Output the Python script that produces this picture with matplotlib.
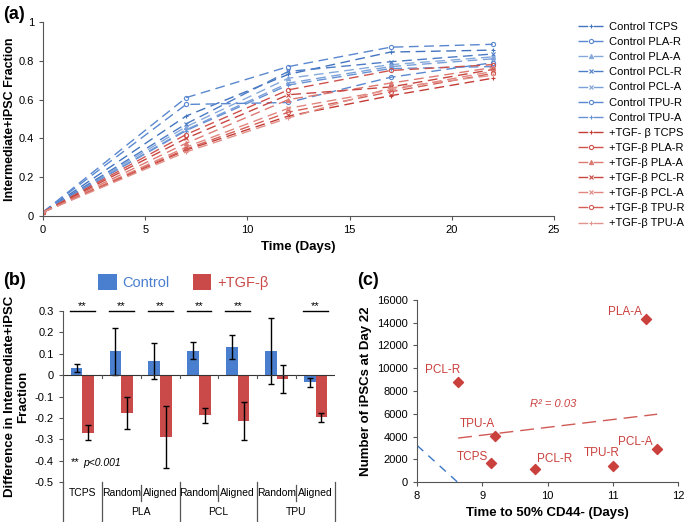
import numpy as np
import matplotlib
matplotlib.use("Agg")
import matplotlib.pyplot as plt

plt.rcParams['font.family'] = ['Liberation Sans', 'DejaVu Sans']

# ---- panel (a) data: fraction over time ----
days = [0, 7, 12, 17, 22]
substrates = ['TCPS', 'PLA-R', 'PLA-A', 'PCL-R', 'PCL-A', 'TPU-R', 'TPU-A']
control_frac = [
    [0.02, 0.515, 0.73, 0.845, 0.855],
    [0.02, 0.61, 0.77, 0.87, 0.885],
    [0.02, 0.46, 0.71, 0.78, 0.82],
    [0.02, 0.475, 0.745, 0.795, 0.835],
    [0.02, 0.445, 0.685, 0.77, 0.81],
    [0.02, 0.575, 0.585, 0.715, 0.79],
    [0.02, 0.44, 0.675, 0.76, 0.77],
]
tgf_frac = [
    [0.02, 0.34, 0.515, 0.62, 0.71],
    [0.02, 0.42, 0.65, 0.75, 0.78],
    [0.02, 0.375, 0.60, 0.685, 0.765],
    [0.02, 0.40, 0.625, 0.665, 0.755],
    [0.02, 0.355, 0.555, 0.65, 0.745],
    [0.02, 0.345, 0.535, 0.64, 0.735],
    [0.02, 0.33, 0.505, 0.66, 0.725],
]
control_names = ['Control ' + s for s in substrates]
tgf_names = ['+TGF- \u03b2 TCPS'] + ['+TGF-\u03b2 ' + s for s in substrates[1:]]

# ---- panel (b) data: difference bars ----
categories = ['TCPS', 'Random', 'Aligned', 'Random', 'Aligned', 'Random', 'Aligned']
groups = ['PLA', 'PCL', 'TPU']
diff_control = [0.034, 0.112, 0.068, 0.115, 0.13, 0.112, -0.034]
err_control = [0.018, 0.11, 0.084, 0.04, 0.056, 0.155, 0.022]
diff_tgf = [-0.27, -0.175, -0.289, -0.188, -0.216, -0.019, -0.198]
err_tgf = [0.035, 0.075, 0.145, 0.035, 0.088, 0.065, 0.023]
significant = [True, True, True, True, True, False, True]
b_yticks = [0.3, 0.2, 0.1, 0, -0.1, -0.2, -0.3, -0.4, -0.5]
b_yticklabels = ['0.3', '0.2', '0.1', '0', '-0.1', '-0.2', '-0.3', '-0.4', '-0.5']

# ---- panel (c) data: scatter ----
time50 = [11.51, 8.63, 9.2, 9.14, 9.81, 11.0, 11.68]
ipsc22 = [14350, 8750, 4040, 1670, 1140, 1450, 2900]
point_labels = ['PLA-A', 'PCL-R', 'TPU-A', 'TCPS', 'PCL-R', 'TPU-R', 'PCL-A']
control_fit = (-5200, 44820)  # slope, intercept of the (hidden) control trend

blue = '#4a7fcf'
red = '#c94a48'
control_colors = ['#4374c0', '#5a88d0', '#86a9dc', '#4c7cc6', '#7aa0d8', '#5a88d0', '#6792d4']
tgf_colors = ['#c43c36', '#cf524c', '#dc7a72', '#c84640', '#e0867e', '#d45e56', '#e2928a']
markers = ['+', 'o', '^', 'x', 'x', 'o', '+']

fig = plt.figure(figsize=(6.85, 5.22), dpi=100)

# ================= (a) =================
ax = fig.add_axes([0.0628, 0.5862, 0.746, 0.3717])
for vals, name, c, m in zip(control_frac, control_names, control_colors, markers):
    ax.plot(days, vals, color=c, lw=1, dashes=(7, 4), marker=m, ms=3,
            mfc='none' if m == 'o' else c, mew=0.8, label=name)
for vals, name, c, m in zip(tgf_frac, tgf_names, tgf_colors, markers):
    ax.plot(days, vals, color=c, lw=1, dashes=(7, 4), marker=m, ms=3,
            mfc='none' if m == 'o' else c, mew=0.8, label=name)
ax.set_xlim(0, 25)
ax.set_ylim(0, 1)
ax.set_xticks([0, 5, 10, 15, 20, 25])
ax.set_yticks([0, 0.2, 0.4, 0.6, 0.8, 1])
ax.set_yticklabels(['0', '0.2', '0.4', '0.6', '0.8', '1'])
ax.tick_params(labelsize=8, length=3, width=0.8, color='#555555')
for s in ['top', 'right']:
    ax.spines[s].set_visible(False)
for s in ['left', 'bottom']:
    ax.spines[s].set_color('#555555')
ax.set_xlabel('Time (Days)', fontsize=9.5, fontweight='bold', labelpad=4)
ax.set_ylabel('Intermediate+iPSC Fraction', fontsize=9, fontweight='bold')
ax.yaxis.set_label_coords(-0.053, 0.5)
ax.legend(loc='upper left', bbox_to_anchor=(1.047, 1.0), frameon=False, fontsize=8,
          handlelength=2.4, handletextpad=0.4, labelspacing=0.46, borderpad=0,
          borderaxespad=0)

# ================= (b) =================
bx = fig.add_axes([0.092, 0.0766, 0.397, 0.3276])
x = np.arange(len(categories))
ekw = dict(ecolor='black', elinewidth=1, capsize=2.5, capthick=1)
bx.bar(x - 0.15, diff_control, 0.3, color=blue, yerr=err_control, error_kw=ekw, label='Control')
bx.bar(x + 0.15, diff_tgf, 0.3, color=red, yerr=err_tgf, error_kw=ekw, label='+TGF-\u03b2')
bx.set_xlim(-0.5, len(categories) - 0.5)
bx.set_ylim(-0.5, 0.3)
bx.set_yticks(b_yticks)
bx.set_yticklabels(b_yticklabels)
bx.tick_params(axis='y', labelsize=8, length=3, width=0.8, color='#555555')
bx.set_xticks([])
for s in ['top', 'right', 'bottom']:
    bx.spines[s].set_visible(False)
bx.spines['left'].set_color('#555555')
bx.axhline(0, color='#333333', lw=0.8)
# small ticks on the zero line at category borders
for b in x[1:] - 0.5:
    bx.plot([b, b], [0, -0.012], color='#555555', lw=0.8)

tr = bx.get_xaxis_transform()
for i, lab in enumerate(categories):
    bx.text(i, -0.065, lab, transform=tr, ha='center', va='center', fontsize=7.5)
for j, g in enumerate(groups):
    bx.text(1.5 + 2 * j, -0.175, g, transform=tr, ha='center', va='center', fontsize=7.5)
# separators: long between groups, short between random/aligned
for b in [-0.5, 0.5, 2.5, 4.5, 6.5]:
    bx.plot([b, b], [0, -0.24], transform=tr, color='#555555', lw=0.9, clip_on=False)
for b in [1.5, 3.5, 5.5]:
    bx.plot([b, b], [-0.02, -0.11], transform=tr, color='#555555', lw=0.9, clip_on=False)

for i, sig in enumerate(significant):
    if sig:
        bx.plot([i - 0.32, i + 0.32], [0.3, 0.3], color='black', lw=1, clip_on=False)
        bx.text(i, 0.302, '**', ha='center', va='bottom', fontsize=8)
bx.text(-0.3, -0.405, '**', fontsize=8, ha='left', va='center')
bx.text(0.02, -0.41, 'p<0.001', fontsize=7.5, style='italic', ha='left', va='center')

bx.set_ylabel('Difference in Intermediate+iPSC\nFraction', fontsize=9.5,
              fontweight='bold', labelpad=4, linespacing=1.1)
leg = bx.legend(loc='center left', bbox_to_anchor=(0.13, 1.17), ncol=2, frameon=False,
                fontsize=10.5, handlelength=1.25, handleheight=1.25, handletextpad=0.4,
                columnspacing=1.6, borderpad=0, borderaxespad=0)
for t, c in zip(leg.get_texts(), [blue, red]):
    t.set_color(c)

# ================= (c) =================
cx = fig.add_axes([0.6088, 0.0766, 0.381, 0.3487])
cx.scatter(time50, ipsc22, marker='D', s=26, color='#c9403d', zorder=3)
label_offsets = [(-15, 5), (-11, 9), (-13, 9), (-14, 4), (14, 7), (-8, 9), (-16, 5)]
for xi, yi, lab, off in zip(time50, ipsc22, point_labels, label_offsets):
    cx.annotate(lab, (xi, yi), xytext=off, textcoords='offset points',
                ha='center', va='center', fontsize=8.5, color='#c9403d')
slope, icpt = np.polyfit(time50, ipsc22, 1)
fx = np.array([min(time50), max(time50)])
cx.plot(fx, slope * fx + icpt, color='#d05a55', lw=1, dashes=(10, 5))
bfx = np.array([8.0, 8.75])
cx.plot(bfx, control_fit[0] * bfx + control_fit[1], color='#3a78c8', lw=1, dashes=(6, 5))
cx.text(10.08, 6850, 'R\u00b2 = 0.03', color='#c9403d', fontsize=8, style='italic',
        ha='center', va='center')
cx.set_xlim(8, 12)
cx.set_ylim(0, 16000)
cx.set_xticks([8, 9, 10, 11, 12])
cx.set_yticks(np.arange(0, 16001, 2000))
cx.tick_params(labelsize=8, length=3, width=0.8, color='#555555')
for s in ['top', 'right']:
    cx.spines[s].set_visible(False)
for s in ['left', 'bottom']:
    cx.spines[s].set_color('#555555')
cx.set_xlabel('Time to 50% CD44- (Days)', fontsize=9.5, fontweight='bold', labelpad=4)
cx.set_ylabel('Number of iPSCs at Day 22', fontsize=9.5, fontweight='bold', labelpad=4)

fig.text(0.004, 0.988, '(a)', fontsize=13, fontweight='bold', va='top')
fig.text(0.004, 0.478, '(b)', fontsize=13, fontweight='bold', va='top')
fig.text(0.521, 0.478, '(c)', fontsize=13, fontweight='bold', va='top')

fig.savefig('out.png', dpi=100)
